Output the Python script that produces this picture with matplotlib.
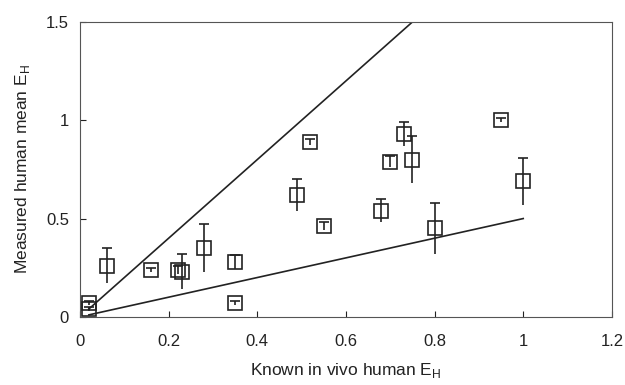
import matplotlib
matplotlib.use('Agg')
import matplotlib.pyplot as plt
import numpy as np

plt.rcParams['font.family'] = ['Liberation Sans', 'DejaVu Sans']

# known in vivo E_H, measured mean E_H and error (upper) for each compound
known = [0.02, 0.02, 0.06, 0.16, 0.22, 0.23, 0.28, 0.35, 0.35, 0.49, 0.52,
         0.55, 0.68, 0.70, 0.73, 0.75, 0.80, 0.95, 1.00]
measured = [0.04, 0.07, 0.26, 0.24, 0.24, 0.23, 0.35, 0.28, 0.07, 0.62, 0.89,
            0.46, 0.54, 0.79, 0.93, 0.80, 0.45, 1.00, 0.69]
err = [0.01, 0.01, 0.09, 0.01, 0.02, 0.09, 0.12, 0.035, 0.01, 0.08, 0.015,
       0.02, 0.06, 0.03, 0.06, 0.12, 0.13, 0.01, 0.12]

# two-fold bounds
upper_x = [0.02, 0.75]
upper_y = [0.04, 1.5]
lower_x = [0.02, 1.0]
lower_y = [0.01, 0.5]

known = np.array(known)
measured = np.array(measured)
err = np.array(err)

fig = plt.figure(figsize=(6.25, 3.85), dpi=100)
ax = fig.add_axes([0.128, 0.177, 0.851, 0.766])

ax.plot(upper_x, upper_y, color='#222222', lw=1.2)
ax.plot(lower_x, lower_y, color='#222222', lw=1.2)

ax.errorbar(known, measured, yerr=err, fmt='none', ecolor='#222222',
            elinewidth=1.2, capsize=0)
ax.plot(known, measured + err, ls='none', marker='_', ms=7, mew=1.2,
        color='#222222')
ax.plot(known, measured, ls='none', marker='s', ms=9.5, mfc='none',
        mec='#222222', mew=1.2)

ax.set_xlim(0, 1.2)
ax.set_ylim(0, 1.5)
ax.set_xticks([0, 0.2, 0.4, 0.6, 0.8, 1, 1.2])
ax.set_xticklabels(['0', '0.2', '0.4', '0.6', '0.8', '1', '1.2'])
ax.set_yticks([0, 0.5, 1, 1.5])
ax.set_yticklabels(['0', '0.5', '1', '1.5'])
ax.tick_params(direction='in', labelsize=12, length=4, pad=8, colors='#222222')
ax.tick_params(axis='x', pad=12)
for s in ax.spines.values():
    s.set_color('#555555')

ax.set_xlabel('Known in vivo human E$_\\mathregular{H}$', fontsize=12.5,
              labelpad=9, color='#222222')
ax.set_ylabel('Measured human mean E$_\\mathregular{H}$', fontsize=12.5,
              labelpad=10, color='#222222')

fig.savefig('out.png', dpi=100)
